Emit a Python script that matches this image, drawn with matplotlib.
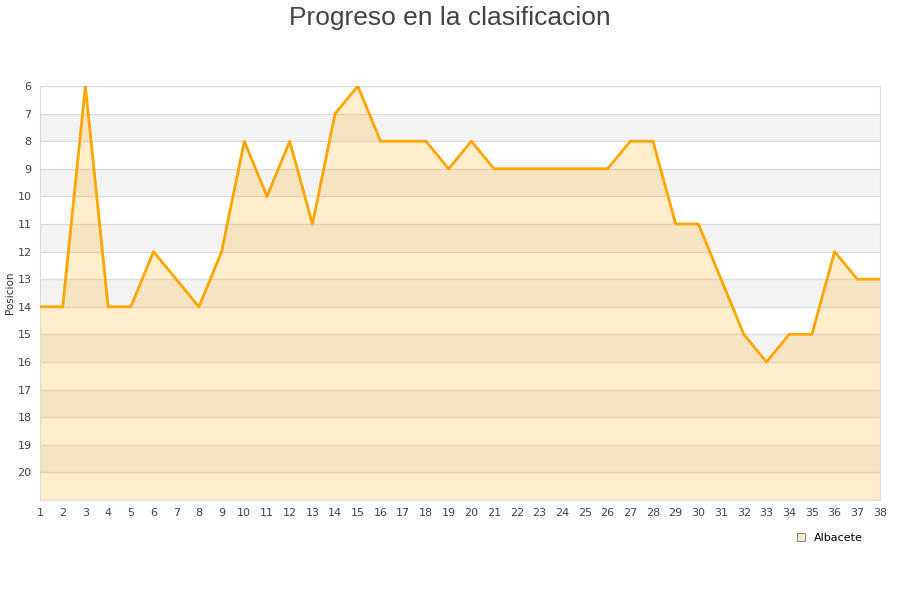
import numpy as np
import matplotlib.pyplot as plt

jornadas = list(range(1, 39))
posicion = [14, 14, 6, 14, 14, 12, 13, 14, 12, 8,
            10, 8, 11, 7, 6, 8, 8, 8, 9, 8,
            9, 9, 9, 9, 9, 9, 8, 8, 11, 11,
            13, 15, 16, 15, 15, 12, 13, 13]
y_ticks = list(range(6, 21))
equipo = 'Albacete'

fig = plt.figure(figsize=(9, 6), dpi=100)
ax = fig.add_axes([40/900, 100/600, 840/900, 414/600])

# alternating bands
for v in range(7, 21, 2):
    ax.axhspan(v, v + 1, color='#f3f3f3', zorder=0, lw=0)
for v in range(6, 22):
    ax.axhline(v, color='#dddddd', lw=1, zorder=1)

ax.fill_between(jornadas, posicion, 21, color='#FFA500', alpha=0.2, lw=0, zorder=2)
ax.plot(jornadas, posicion, color='#FFA500', lw=2, zorder=3)
ax.plot([], [], 's', ms=6, mfc='#FFEDCC', mec='#888888', mew=0.8, label=equipo)

ax.set_xlim(1, 38)
ax.set_ylim(21, 6)
ax.set_xticks(jornadas)
ax.set_yticks(y_ticks)
ax.tick_params(length=0, labelsize=8, colors='#444444', pad=6)
for s in ax.spines.values():
    s.set_color('#dddddd')
ax.set_ylabel('Posicion', fontsize=7.5, color='#333333')
ax.yaxis.set_label_coords(-0.03, 0.5)

fig.text(0.5, 0.99, 'Progreso en la clasificacion', ha='center', va='top',
         fontsize=19, color='#444444', family='Liberation Sans')
ax.legend(loc='upper right', bbox_to_anchor=(0.992, -0.055), frameon=False,
          fontsize=8, handlelength=0.8, handletextpad=0.8)

plt.savefig('out.png', dpi=100)
